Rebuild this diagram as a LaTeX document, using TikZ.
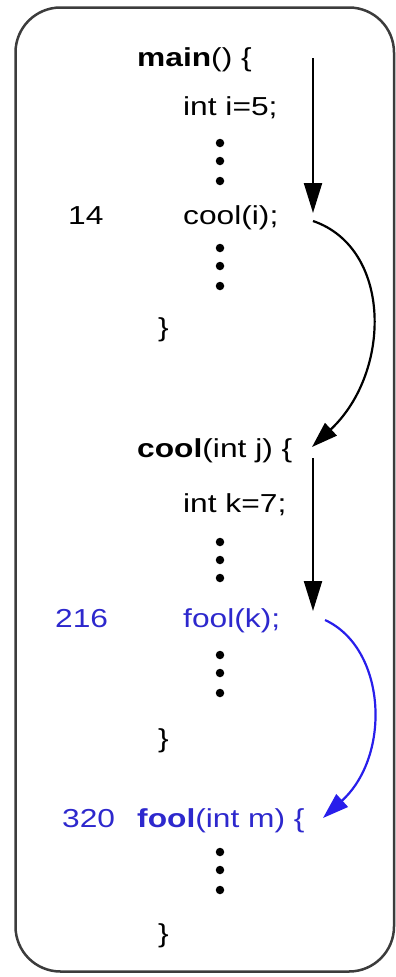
\documentclass[tikz,border=0pt]{standalone}
\usepackage{fontspec}
\setmainfont[FakeStretch=1.22]{Liberation Sans}
\usetikzlibrary{arrows.meta}
\definecolor{frameline}{RGB}{60,60,60}
\definecolor{codeblue}{RGB}{45,40,205}
\definecolor{arrowblue}{RGB}{40,30,235}
\tikzset{
  code/.style={anchor=base west,inner sep=0pt,font=\fontsize{26}{30}\selectfont},
  dotmark/.style={fill=black,circle,inner sep=0pt,minimum size=8.5pt},
  flow/.style={line width=2.2pt,-{Triangle[length=30pt,width=18pt]}},
  call/.style={line width=2.2pt,-{Triangle[length=26pt,width=17pt]}},
}
\begin{document}
\begin{tikzpicture}[x=1pt,y=-1pt]
\useasboundingbox (0,0) rectangle (396,977);
\draw[frameline,line width=2.5pt,rounded corners=45pt] (15.5,7.5) rectangle (394,971.5);

% main
\node[code] (mainh) at (137,66) {\textbf{main}() \{};
\node[code] (inti) at (183,115) {int i=5;};
\node[dotmark] (d1) at (220,143) {};
\node[dotmark] (d2) at (220,161) {};
\node[dotmark] (d3) at (220,181) {};
\node[code] (n14) at (68,224) {14};
\node[code] (calli) at (183,224) {cool(i);};
\node[dotmark] (d4) at (220,248) {};
\node[dotmark] (d5) at (220,266) {};
\node[dotmark] (d6) at (220,286) {};
\node[code] (cl1) at (158,336) {\}};

% cool
\node[code] (coolh) at (137,457) {\textbf{cool}(int j) \{};
\node[code] (intk) at (183,512) {int k=7;};
\node[dotmark] (d7) at (220,542) {};
\node[dotmark] (d8) at (220,560) {};
\node[dotmark] (d9) at (220,578) {};
\node[code,text=codeblue] (n216) at (55,627) {216};
\node[code,text=codeblue] (callk) at (183,627) {fool(k);};
\node[dotmark] (d10) at (220,655) {};
\node[dotmark] (d11) at (220,673) {};
\node[dotmark] (d12) at (220,693) {};
\node[code] (cl2) at (158,747) {\}};

% fool
\node[code,text=codeblue] (n320) at (62,827) {320};
\node[code,text=codeblue] (foolh) at (137,827) {\textbf{fool}(int m) \{};
\node[dotmark] (d13) at (220,852) {};
\node[dotmark] (d14) at (220,870) {};
\node[dotmark] (d15) at (220,890) {};
\node[code] (cl3) at (158,942) {\}};

% arrow end points
\coordinate (a1s) at (313,58);
\coordinate (a1e) at (313,213);
\coordinate (c1s) at (313,221);
\coordinate (c1e) at (312,447);
\coordinate (a2s) at (313,458);
\coordinate (a2e) at (313,611);
\coordinate (c2s) at (325,620);
\coordinate (c2e) at (323,818);

\draw[flow] (a1s) -- (a1e);
\draw[call] (c1s) .. controls (392,248) and (392,372) .. (c1e);
\draw[flow] (a2s) -- (a2e);
\draw[call,arrowblue] (c2s) .. controls (386,648) and (392,755) .. (c2e);
\end{tikzpicture}
\end{document}
